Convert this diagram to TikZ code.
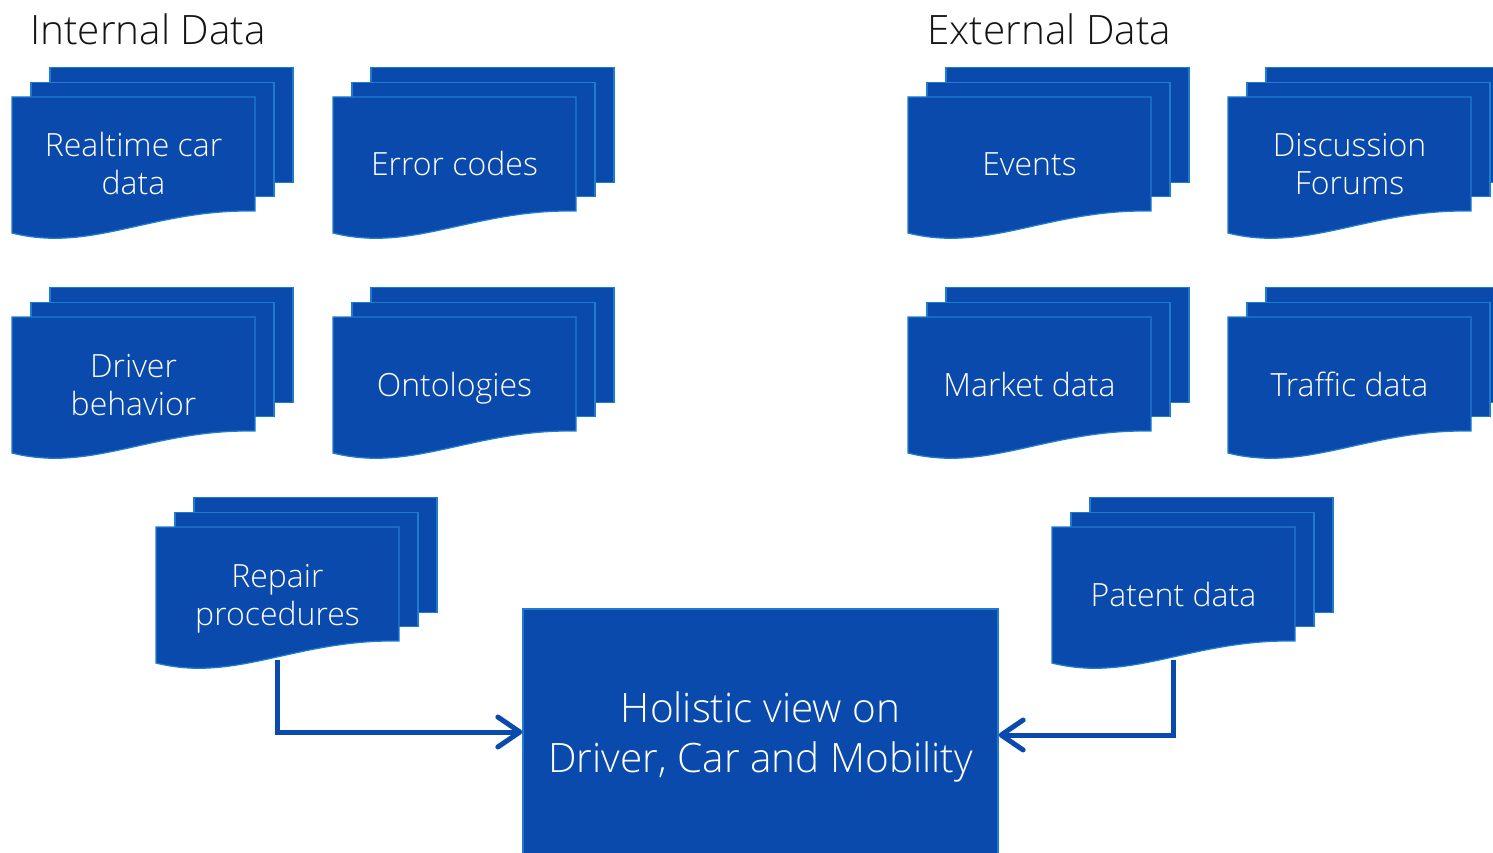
\documentclass[tikz,border=0pt]{standalone}
\usepackage{fontspec}
\IfFontExistsTF{Open Sans Light}{\setmainfont{Open Sans Light}}{%
  \IfFontExistsTF{Lato Light}{\setmainfont{Lato Light}}{\setmainfont{Open Sans}}}
\usetikzlibrary{arrows.meta}

\definecolor{docfill}{RGB}{11,74,173}
\definecolor{docedge}{RGB}{30,124,206}
\definecolor{titleink}{RGB}{20,20,20}

\tikzset{
  sheet/.style={fill=docfill, draw=docedge, line width=1.3pt, line join=miter},
  doctext/.style={text=white, align=center, inner sep=0pt,
    font=\fontsize{32}{38}\selectfont},
  hubbox/.style={fill=docfill, draw=docedge, line width=1.3pt,
    minimum width=475pt, minimum height=296pt, inner sep=0pt},
  hubtext/.style={text=white, align=center, inner sep=0pt,
    font=\fontsize{40.5}{50}\selectfont},
  heading/.style={text=titleink, inner sep=0pt, anchor=base west,
    font=\fontsize{40.5}{50}\selectfont},
  link/.style={draw=docfill, line width=5pt,
    -{Straight Barb[length=22pt, width=30pt, round]}},
}

% A stack of three document sheets; #1 name, (#2,#3) top-left of the front sheet, #4 label
\newcommand{\docstack}[4]{%
  \begin{scope}[shift={(#2,#3)}]
    \draw[sheet] (38,-29.5) rectangle (281,85.5);
    \draw[sheet] (19,-14.5) rectangle (262,99.5);
    \draw[sheet] (0,0) -- (243,0) -- (243,114)
      .. controls (140,112) and (80,156) .. (0,136) -- cycle;
    \node[doctext] (#1) at (121.5,71.4) {#4};
    \coordinate (#1-foot) at (121.5,133);
  \end{scope}}

\begin{document}
\begin{tikzpicture}[x=1pt, y=-1pt]
  \useasboundingbox (0,0) rectangle (1493,853);

  \node[heading] (internal) at (30,45) {Internal Data};
  \node[heading] (external) at (927,45) {External Data};

  \docstack{realtime}{12}{97}{\strut Realtime car\\\strut data}
  \docstack{errors}{333}{97}{\strut Error codes}
  \docstack{events}{908}{97}{\strut Events}
  \docstack{forums}{1228}{97}{\strut Discussion\\\strut Forums}

  \docstack{driver}{12}{317}{\strut Driver\\\strut behavior}
  \docstack{ontologies}{333}{317}{\strut Ontologies}
  \docstack{market}{908}{317}{\strut Market data}
  \docstack{traffic}{1228}{317}{\strut Traffic data}

  \docstack{repair}{156}{527}{\strut Repair\\\strut procedures}
  \docstack{patent}{1052}{527}{\strut Patent data}

  \node[hubbox] (hub) at (760.5,757) {};
  \node[hubtext] (hubtext) at (760.5,737)
    {\strut Holistic view on\\\strut Driver, Car and Mobility};

  \draw[link] (repair-foot) |- ([yshift=25pt]hub.west);
  \draw[link] (patent-foot) |- ([yshift=22pt]hub.east);
\end{tikzpicture}
\end{document}
